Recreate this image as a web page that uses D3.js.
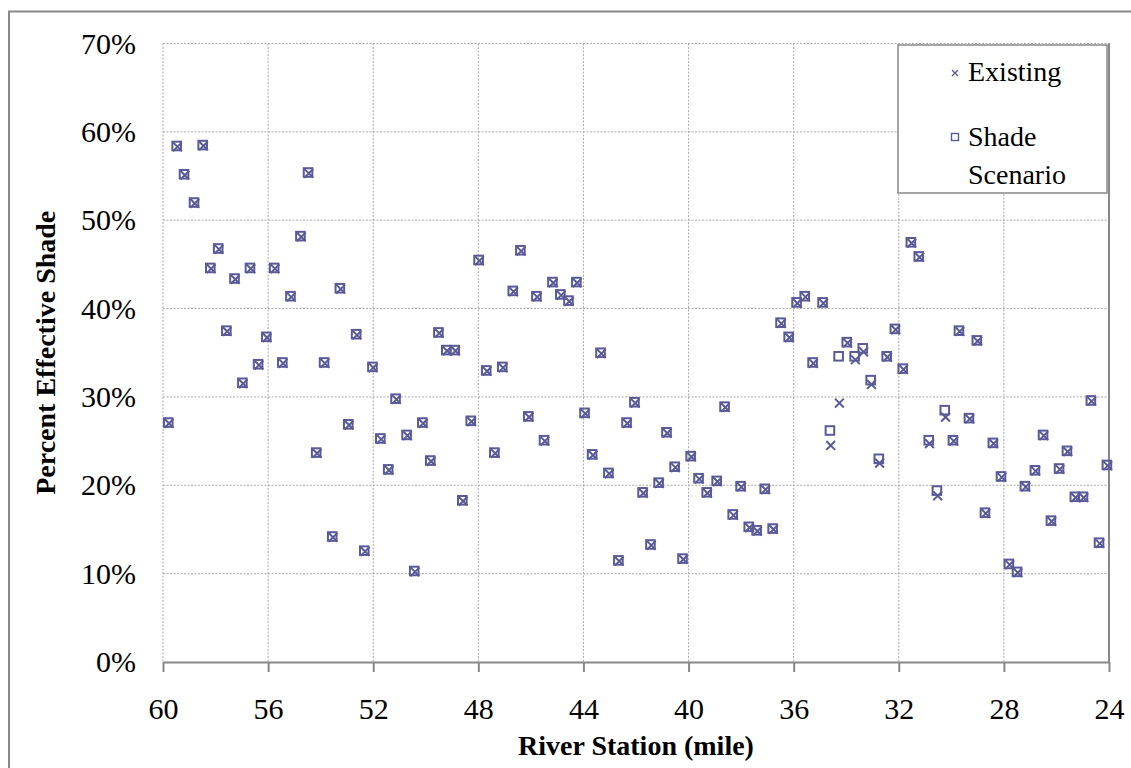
<!DOCTYPE html>
<html><head><meta charset="utf-8">
<script src="https://cdn.jsdelivr.net/npm/d3@7"></script>
<style>body{margin:0;background:#fff}svg{display:block}</style>
</head><body><svg id="c" width="1131" height="768"></svg>
<script>
const miles = [59.8, 59.48, 59.2, 58.82, 58.49, 58.2, 57.9, 57.59, 57.28, 56.98,
  56.69, 56.38, 56.07, 55.77, 55.46, 55.15, 54.77, 54.48, 54.17, 53.87,
  53.56, 53.27, 52.95, 52.65, 52.34, 52.03, 51.73, 51.43, 51.15, 50.73,
  50.44, 50.13, 49.83, 49.52, 49.22, 48.9, 48.61, 48.29, 47.99, 47.7,
  47.39, 47.09, 46.69, 46.4, 46.1, 45.79, 45.5, 45.18, 44.88, 44.57,
  44.27, 43.96, 43.67, 43.35, 43.05, 42.67, 42.36, 42.06, 41.75, 41.45,
  41.14, 40.84, 40.53, 40.23, 39.92, 39.62, 39.31, 38.93, 38.63, 38.32,
  38.02, 37.71, 37.41, 37.1, 36.8, 36.5, 36.19, 35.89, 35.58, 35.28,
  34.9, 34.62, 34.29, 33.98, 33.68, 33.37, 33.07, 32.76, 32.46, 32.15,
  31.85, 31.54, 31.24, 30.86, 30.55, 30.25, 29.94, 29.71, 29.33, 29.03,
  28.72, 28.42, 28.11, 27.81, 27.5, 27.2, 26.82, 26.51, 26.21, 25.9,
  25.6, 25.3, 24.99, 24.69, 24.38, 24.08];
const existing = [27.1, 58.4, 55.2, 52.0, 58.5, 44.6, 46.8, 37.5, 43.4, 31.6,
  44.6, 33.7, 36.8, 44.6, 33.9, 41.4, 48.2, 55.4, 23.7, 33.9,
  14.2, 42.3, 26.9, 37.1, 12.6, 33.4, 25.3, 21.8, 29.8, 25.7,
  10.3, 27.1, 22.8, 37.3, 35.3, 35.3, 18.3, 27.3, 45.5, 33.0,
  23.7, 33.4, 42.0, 46.6, 27.8, 41.4, 25.1, 43.0, 41.6, 40.9,
  43.0, 28.2, 23.5, 35.0, 21.4, 11.5, 27.1, 29.4, 19.2, 13.3,
  20.3, 26.0, 22.1, 11.7, 23.3, 20.8, 19.2, 20.5, 28.9, 16.7,
  19.9, 15.3, 14.9, 19.6, 15.1, 38.4, 36.8, 40.7, 41.4, 33.9,
  40.7, 24.6, 29.4, 36.2, 34.3, 35.2, 31.5, 22.6, 34.6, 37.7,
  33.2, 47.5, 45.9, 24.8, 18.9, 27.8, 25.1, 37.5, 27.6, 36.4,
  16.9, 24.8, 21.0, 11.1, 10.2, 19.9, 21.7, 25.7, 16.0, 21.9,
  23.9, 18.7, 18.7, 29.6, 13.5, 22.3];
const shade = [27.1, 58.4, 55.2, 52.0, 58.5, 44.6, 46.8, 37.5, 43.4, 31.6,
  44.6, 33.7, 36.8, 44.6, 33.9, 41.4, 48.2, 55.4, 23.7, 33.9,
  14.2, 42.3, 26.9, 37.1, 12.6, 33.4, 25.3, 21.8, 29.8, 25.7,
  10.3, 27.1, 22.8, 37.3, 35.3, 35.3, 18.3, 27.3, 45.5, 33.0,
  23.7, 33.4, 42.0, 46.6, 27.8, 41.4, 25.1, 43.0, 41.6, 40.9,
  43.0, 28.2, 23.5, 35.0, 21.4, 11.5, 27.1, 29.4, 19.2, 13.3,
  20.3, 26.0, 22.1, 11.7, 23.3, 20.8, 19.2, 20.5, 28.9, 16.7,
  19.9, 15.3, 14.9, 19.6, 15.1, 38.4, 36.8, 40.7, 41.4, 33.9,
  40.7, 26.2, 34.6, 36.2, 34.6, 35.5, 31.9, 23.0, 34.6, 37.7,
  33.2, 47.5, 45.9, 25.1, 19.4, 28.5, 25.1, 37.5, 27.6, 36.4,
  16.9, 24.8, 21.0, 11.1, 10.2, 19.9, 21.7, 25.7, 16.0, 21.9,
  23.9, 18.7, 18.7, 29.6, 13.5, 22.3];
const xTicks = [60, 56, 52, 48, 44, 40, 36, 32, 28, 24];
const yTicks = [0, 10, 20, 30, 40, 50, 60, 70];
const seriesNames = ["Existing", "Shade Scenario"];

const svg = d3.select("#c");
const FONT = "Liberation Serif, Times New Roman, serif";
const COL = "#5a5a98";
const L = 163, R = 1109, T = 43.5, B = 662;

svg.append("rect").attr("x", 9).attr("y", 11.5).attr("width", 1140).attr("height", 800)
  .attr("fill", "#fff").attr("stroke", "#888").attr("stroke-width", 2);

const x = d3.scaleLinear().domain([60, 24]).range([L, R]);
const y = d3.scaleLinear().domain([0, 70]).range([B, T]);

// gridlines
const g = svg.append("g");
g.selectAll("line.h").data(yTicks.filter(d => d > 0)).join("line")
  .attr("x1", L).attr("x2", R).attr("y1", d => y(d)).attr("y2", d => y(d))
  .attr("stroke", "#aaa").attr("stroke-width", 1).attr("stroke-dasharray", "2,1.5");
g.selectAll("line.v").data(xTicks.slice(0, -1)).join("line")
  .attr("y1", T).attr("y2", B).attr("x1", d => x(d)).attr("x2", d => x(d))
  .attr("stroke", "#aaa").attr("stroke-width", 1).attr("stroke-dasharray", "2,1.5");

// right border line
svg.append("line").attr("x1", R).attr("x2", R).attr("y1", T).attr("y2", B)
  .attr("stroke", "#888").attr("stroke-width", 2);

// x axis
const xa = svg.append("g").attr("transform", `translate(0,${B})`)
  .call(d3.axisBottom(x).tickValues(xTicks).tickSize(10).tickPadding(26).tickSizeOuter(0));
xa.select(".domain").attr("stroke", "#888").attr("stroke-width", 2);
xa.selectAll(".tick line").attr("stroke", "#888").attr("stroke-width", 2);
xa.selectAll("text").style("font-family", FONT).attr("font-size", 30).attr("fill", "#000");

// y axis labels
const ya = svg.append("g").attr("transform", `translate(${L},0)`)
  .call(d3.axisLeft(y).tickValues(yTicks).tickSize(0).tickPadding(27).tickFormat(d => d + "%"));
ya.select(".domain").remove();
ya.selectAll("text").style("font-family", FONT).attr("font-size", 30).attr("fill", "#000");

// titles
svg.append("text").attr("x", (L + R) / 2).attr("y", 755).attr("text-anchor", "middle")
  .style("font-family", FONT).attr("font-size", 28).attr("font-weight", "bold").text("River Station (mile)");
svg.append("text").attr("transform", `translate(55,${(T + B) / 2}) rotate(-90)`).attr("text-anchor", "middle")
  .style("font-family", FONT).attr("font-size", 28).attr("font-weight", "bold").text("Percent Effective Shade");

const ptsE = miles.map((m, i) => ({ m, v: existing[i] }));
const ptsS = miles.map((m, i) => ({ m, v: shade[i] }));

// Shade Scenario squares
const sq = 8.6;
svg.append("g").selectAll("rect").data(ptsS).join("rect")
  .attr("x", d => x(d.m) - sq / 2).attr("y", d => y(d.v) - sq / 2)
  .attr("width", sq).attr("height", sq)
  .attr("fill", "none").attr("stroke", COL).attr("stroke-width", 2);

// Existing x marks
const xs = 4.4;
svg.append("g").selectAll("path").data(ptsE).join("path")
  .attr("d", d => { const cx = x(d.m) + 0.8, cy = y(d.v) + 0.8;
    return `M${cx - xs},${cy - xs}L${cx + xs},${cy + xs}M${cx - xs},${cy + xs}L${cx + xs},${cy - xs}`; })
  .attr("fill", "none").attr("stroke", COL).attr("stroke-width", 2);

// legend
const lg = svg.append("g");
lg.append("rect").attr("x", 898).attr("y", 45).attr("width", 209).attr("height", 148)
  .attr("fill", "#fff").attr("stroke", "#888").attr("stroke-width", 1.5);
const lx = 955;
lg.append("path").attr("d", `M${lx - 3},${73 - 3}L${lx + 3},${73 + 3}M${lx - 3},${73 + 3}L${lx + 3},${73 - 3}`)
  .attr("stroke", COL).attr("stroke-width", 1.4).attr("fill", "none");
lg.append("rect").attr("x", lx - 3.5).attr("y", 137 - 3.5).attr("width", 7).attr("height", 7)
  .attr("fill", "none").attr("stroke", COL).attr("stroke-width", 1.4);
lg.append("text").attr("x", 968).attr("y", 81).style("font-family", FONT).attr("font-size", 28).text(seriesNames[0]);
const t2 = lg.append("text").attr("x", 968).attr("y", 146).style("font-family", FONT).attr("font-size", 28);
t2.append("tspan").attr("x", 968).text(seriesNames[1].split(" ")[0]);
t2.append("tspan").attr("x", 968).attr("dy", 38).text(seriesNames[1].split(" ")[1]);
</script></body></html>
